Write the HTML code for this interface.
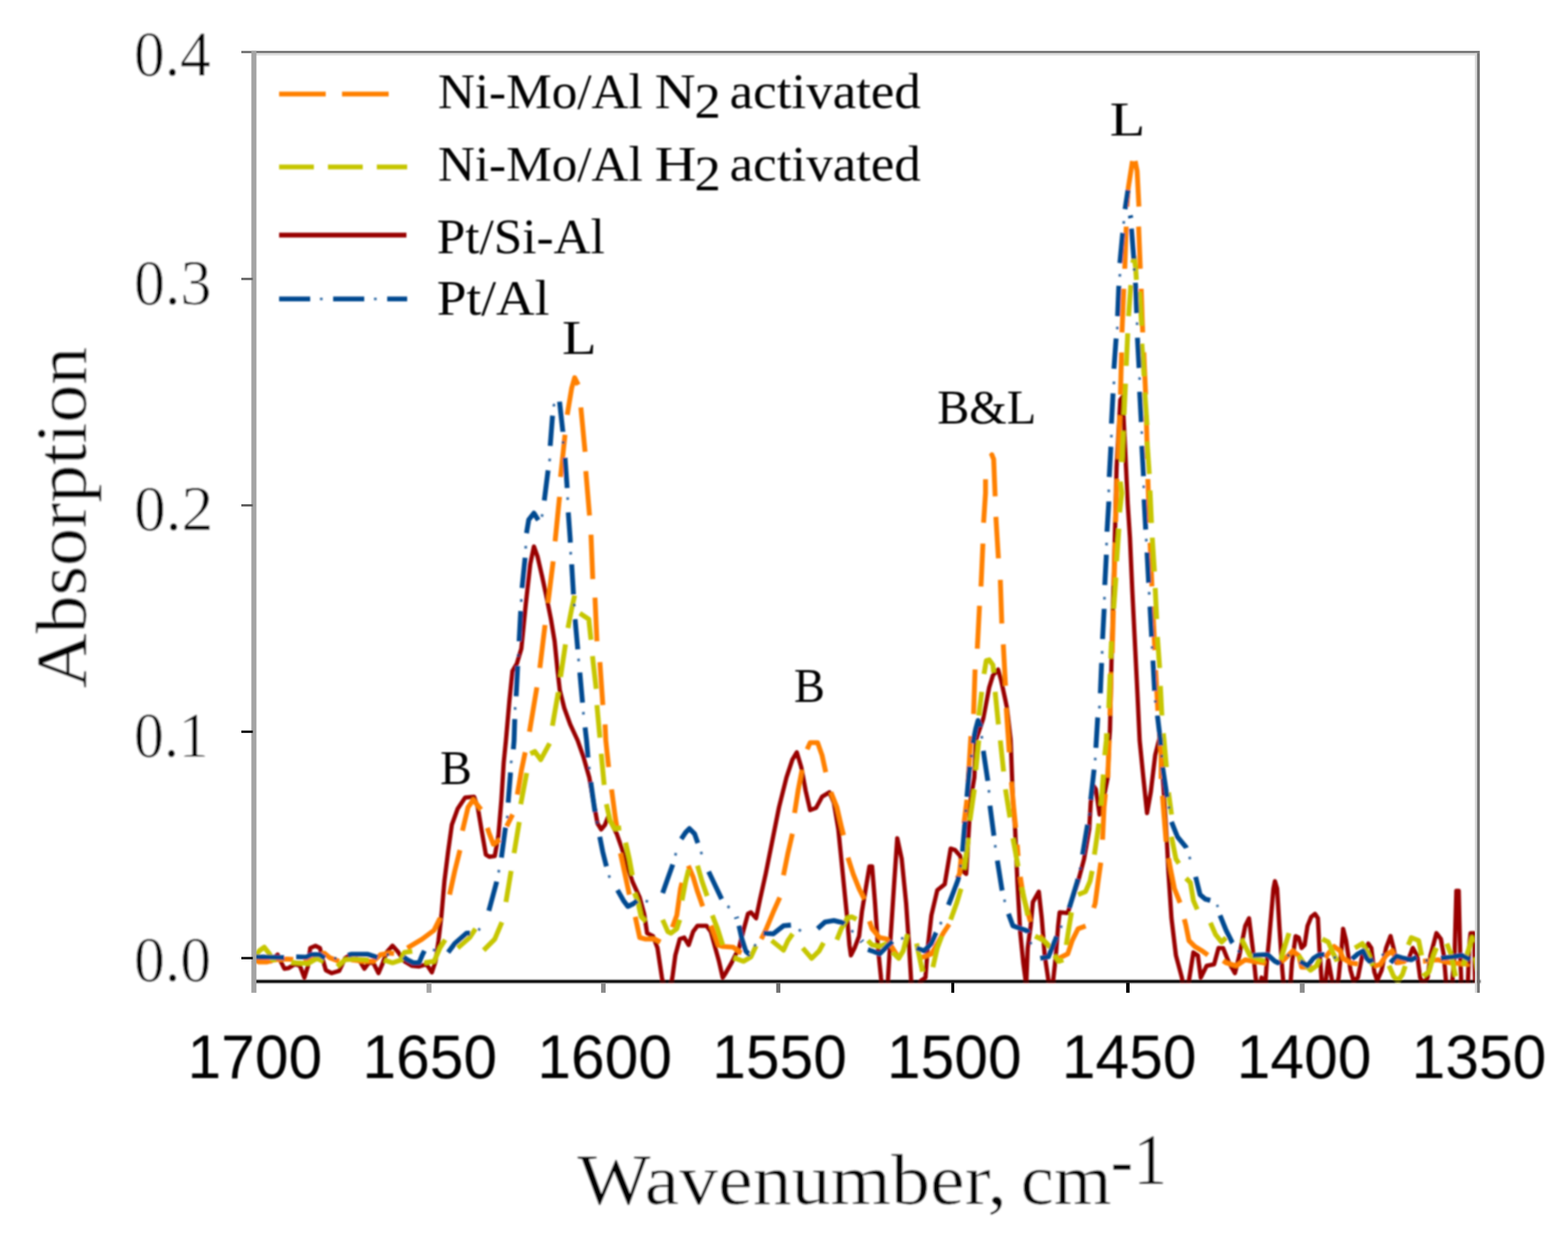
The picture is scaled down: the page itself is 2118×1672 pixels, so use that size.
<!DOCTYPE html>
<html lang="en"><head><meta charset="utf-8"><title>FTIR pyridine absorption spectra</title>
<style>html,body{margin:0;padding:0;background:#fff}body{width:2118px;height:1672px;overflow:hidden}svg{display:block}.s{font-family:"Liberation Serif","DejaVu Serif",serif;fill:#000;stroke:#fff}.a{font-family:"Liberation Sans","DejaVu Sans",sans-serif;fill:#000}.c{fill:none;stroke-linejoin:round;stroke-linecap:butt}</style></head><body>
<svg width="2118" height="1672" viewBox="0 0 2118 1672">
<defs><clipPath id="pa"><rect x="343" y="72" width="1654" height="1255.2"/></clipPath><filter id="bl" x="-2%" y="-2%" width="104%" height="104%"><feGaussianBlur stdDeviation="1.0"/></filter><filter id="bl2" x="-2%" y="-2%" width="104%" height="104%"><feGaussianBlur stdDeviation="0.55"/></filter></defs>
<rect width="2118" height="1672" fill="#fff"/>
<g filter="url(#bl)">
<rect x="343" y="1323.6" width="1656.5" height="3.8" fill="#000"/>
<g clip-path="url(#pa)">
<path class="c" d="M343 1293.3L366 1298.3L375 1289.3L380.1 1300.3L384.1 1308.3L390.1 1307.3L398.1 1302.3L405.1 1304.3L411.1 1320.3L416.1 1304.3L419.1 1280.3L426.1 1277.3L432.1 1280.3L436.1 1296.3L440.1 1310.3L448.1 1314.3L458.1 1311.3L466.1 1294.3L474.1 1289.3L486.2 1298.3L492.2 1308.3L498.2 1300.3L504.2 1300.3L511.2 1314.3L517.2 1300.3L522.2 1286.3L530.2 1277.3L538.2 1286.3L546.2 1298.3L556.2 1304.3L566.2 1305.3L576.2 1302.3L583.3 1313.3L588.3 1298.3L592.3 1270.3L596.3 1236.2L600.3 1190.2L605.3 1150.2L610.3 1114.1L618.3 1092.1L628.3 1077.1L640.3 1076.1L645.3 1090.1L650.3 1120.1L656.3 1154.2L661.3 1157.2L668.3 1156.2L673.3 1128.1L677.3 1080.1L680.4 1030L683.4 1000L688.1 946.3L692.2 906.2L698.2 896.2L704.2 876.2L710.2 816.2L716.2 762.1L721.2 738.1L726.2 752.1L732.2 778.1L738.2 806.1L744.2 836.2L749.2 866.2L753.2 906.2L756.2 932.3L762.2 956.3L770.2 978.3L780.2 999.9L788 1022L796 1050.1L803 1090.1L807.1 1112.1L812.1 1120.1L817.1 1114.1L821.1 1104.1L826.1 1112.1L833.1 1126.1L840.1 1146.1L846.1 1166.2L854.1 1190.2L864.1 1212.2L870.1 1234.2L874.1 1260.3L882.1 1264.3L888.1 1280.3L894.1 1320.3L901.1 1356.4L908.2 1320.3L912.2 1290.3L918.2 1268.3L924.2 1266.3L930.2 1276.3L936.2 1258.3L942.2 1250.3L954.2 1250.3L960.2 1258.3L966.2 1280.3L971.2 1298.3L976.2 1320.3L980.2 1314.3L988.2 1300.3L998.2 1280.3L1004.3 1256.3L1010.3 1234.2L1014.3 1232.2L1021.3 1240.2L1026.3 1216.2L1034.3 1180.2L1042.3 1140.1L1052.3 1090.1L1062.3 1050.1L1070.3 1026L1076.3 1016L1082.3 1036L1088.3 1068.1L1094.3 1094.1L1102.3 1091.1L1110.4 1076.1L1120.4 1070.1L1126.4 1084.1L1132.4 1120.1L1136.4 1160.2L1140.4 1200.2L1144.4 1240.2L1147.4 1276.3L1149.4 1290.3L1154.4 1280.3L1160.4 1264.3L1164.4 1230.2L1169.4 1200.2L1174.4 1170.2L1178 1170.2L1182 1220.2L1186 1280.3L1190 1320.3L1194 1350.4L1199 1330.3L1202 1280.3L1208 1190.2L1212 1132.1L1218 1160.2L1224 1220.2L1228.1 1280.3L1231.1 1330.3L1235.1 1350.4L1244.1 1324.3L1250.1 1320.3L1253.1 1280.3L1258.1 1236.2L1266.1 1202.2L1276.1 1194.2L1280.1 1170.2L1284.1 1146.1L1290.1 1148.1L1297.1 1156.2L1300.1 1176.2L1305.1 1180.2L1308.1 1130.1L1311.1 1080.1L1316.1 1050.1L1318.1 1000L1328.2 970.3L1336.2 928.3L1341.2 912.2L1348.2 904.2L1352.2 918.3L1358.2 946.3L1360.2 956.3L1365.2 999.9L1368.2 1080.1L1371.2 1120.1L1374.2 1190.2L1378.2 1260.3L1382.2 1300.3L1386.2 1330.3L1388.2 1280.3L1392.2 1250.3L1395.2 1218.2L1403.2 1204.2L1407.2 1240.2L1411.2 1290.3L1416.2 1324.3L1422.2 1328.3L1426.2 1290.3L1429.3 1250.3L1431.3 1232.2L1442.3 1233.2L1446.3 1220.2L1456.3 1190.2L1464.3 1160.2L1471.3 1120.1L1473.3 1084.1L1476.3 1060.1L1480.3 1066.1L1485.3 1100.1L1490.3 1080.1L1496.3 1050.1L1498.3 1000L1499.3 986.3L1501.3 896.2L1506.3 710.3L1508.3 630.2L1513.3 540.1L1516.3 536.1L1520.3 616.2L1523.3 680.3L1526.3 726.1L1529.4 796.1L1532.4 856.2L1536.4 936.3L1539.4 999.9L1544.4 1050.1L1549.4 1098.1L1554.4 1070.1L1560.4 1020L1566.4 996L1571.4 1060.1L1576.4 1140.1L1578.4 1180.2L1582.4 1240.2L1588.4 1290.3L1596.4 1320.3L1600 1340.3L1606 1324.3L1612 1286.3L1618 1290.3L1622 1320.3L1630 1304.3L1640 1302.3L1646 1280.3L1652.1 1280.3L1660.1 1300.3L1668.1 1314.3L1674.1 1290.3L1682.1 1250.3L1687.1 1240.2L1692.1 1280.3L1696.1 1320.3L1700.1 1344.3L1704.1 1320.3L1708.1 1344.3L1711.1 1300.3L1714.1 1270.3L1720.1 1200.2L1722.1 1190.2L1725.1 1200.2L1728.1 1250.3L1732.1 1310.3L1735.1 1344.3L1742.1 1344.3L1745.1 1300.3L1750.1 1264.3L1754.2 1266.3L1758.2 1280.3L1762.2 1276.3L1766.2 1250.3L1771.2 1238.2L1776.2 1234.2L1780.2 1240.2L1782.2 1280.3L1785.2 1324.3L1788.2 1344.3L1791.2 1320.3L1794.2 1296.3L1799.2 1324.3L1802.2 1344.3L1808.2 1320.3L1812.2 1280.3L1814.2 1254.3L1818.2 1270.3L1824.2 1310.3L1828.2 1324.3L1834.2 1320.3L1840.2 1290.3L1848.2 1274.3L1852.3 1280.3L1856.3 1312.3L1860.3 1324.3L1866.3 1310.3L1872.3 1280.3L1878.3 1264.3L1882.3 1280.3L1886.3 1300.3L1892.3 1296.3L1902.3 1296.3L1908.3 1280.3L1914.3 1290.3L1918.3 1320.3L1922.3 1328.3L1928.3 1320.3L1932.3 1290.3L1940.3 1260.3L1946.3 1268.3L1950.3 1290.3L1954.4 1340.3L1960.4 1340.3L1964.8 1290.3L1967.2 1203.2L1970.4 1203.2L1972.4 1290.3L1974.4 1340.3L1982.4 1340.3L1984.4 1280.3L1986.4 1260.3L1991.4 1260.3L1992.4 1324.3L1996.4 1300.3" stroke="#990000" stroke-width="5.8"/>
<path class="c" d="M343 1296.3L350 1299.3L360 1299.3L370 1296.3L388.1 1295.3L396.1 1295.9M410.1 1298.3L422.1 1296.3L430.1 1290.3L438.1 1287.3L445.1 1293.3L458.1 1298.3M474.1 1296.3L490.2 1298.3L504.2 1298.3L514.2 1289.3L526.2 1287.3L538.2 1288.3L542.2 1286.3M550.2 1280.3L570.2 1268.3L586.3 1256.3L594.3 1240.2L597.3 1231.2M607.3 1208.2L614.3 1176.2L621.3 1148.1M624.7 1122.1L632.3 1090.1L639.3 1080.1L650.3 1094.1L652.7 1099.1M658.3 1118.1L660.3 1124.1L666.3 1140.1L675.3 1134.1M684.4 1116.1L692.4 1100.1M698.8 1073.1L704.4 1040L709.4 1016M715.2 988.3L725.2 928.3M729.2 902.2L736.2 844.2M740.2 814.1L747.2 758.1M749.8 731.1L755.8 671M757.2 644.2L763.2 587.2M766.2 560.2L772.2 524.1L776.2 510.1L781.2 520.1M784.6 550.2L790.3 610.2M791.3 636.2L796.3 696.3M798.3 722.1L800.7 782.1M803.7 807.1L806.3 866.2M810.3 894.2L814.3 952.3M817.3 978.3L818.3 999.9L822.1 1036M826.1 1066.1L831.1 1104.1L834.1 1122.1M838.1 1152.2L844.1 1180.2L850.1 1208.2M858.1 1238.2L864.1 1266.3L872.1 1268.3L884.1 1268.3L892.1 1272.3M908.2 1252.3L914.2 1236.2L919.2 1200.2L921.2 1192.2M929.8 1169.2L936.2 1184.2L942.2 1204.2L949.2 1224.2M960.2 1250.3L962.2 1254.3L970.2 1276.3L976.2 1278.3L990.2 1279.3L1000.2 1286.3L1008.3 1290.3L1018.3 1280.3M1028.3 1268.3L1034.3 1256.3L1044.3 1232.2L1053.3 1212.2M1058.3 1182.2L1064.3 1152.2L1070.3 1126.1M1073.3 1098.1L1078.3 1066.1L1083.3 1040M1090.3 1012L1094.3 1003L1104.4 1003L1110.4 1020L1115.4 1043M1122.4 1070.1L1130.4 1090.1L1136.4 1116.1L1139.4 1128.1M1145.4 1158.2L1152.4 1180.2L1160.4 1200.2L1167.4 1214.2M1174.4 1244.2L1178 1254.3L1188 1266.3L1198 1268.3L1208 1284.3L1212 1290.3M1244.1 1293.3L1258.1 1288.3L1266.1 1274.3L1274.1 1260.3L1282.1 1248.2M1293.1 1186.2L1296.1 1180.2L1298.1 1160.2M1302.1 1112.1L1306.1 1080.1M1307.7 1056.1L1311.7 990M1315.1 964.3L1317.1 904.2M1320.1 876.2L1323.1 818.2M1325.1 792.1L1327.7 734.1M1328.6 706L1331.2 666L1331.2 647.2M1338.2 616.2L1339.8 614.2L1342.2 620.2L1344.2 670.3M1345.2 698L1348.6 754.1M1351.2 783.1L1353.2 842.2M1355.2 870.2L1358.2 926.3M1359.2 956.3L1362.2 999.9L1363.2 1016M1366.2 1056.1L1369.2 1090.1L1373.2 1130.1L1375.2 1156.2M1378.2 1184.2L1382.2 1210.2L1392.2 1246.2L1400.2 1260.3L1408.2 1268.3M1429.3 1294.3L1434.3 1292.3L1442.3 1288.3L1448.3 1270.3L1456.3 1254.3L1470.3 1249.2M1477.3 1226.2L1479.3 1220.2L1483.3 1190.2L1487.3 1162.2M1489.3 1134.1L1491.3 1090.1L1493.3 1070.1M1496.3 1050.1L1498.3 1000M1499.3 966.3L1500.7 908.2M1502.3 882.2L1503.9 824.2M1504.8 791L1506.3 733M1507 705L1508.9 647M1510.4 620L1512.7 561M1513.5 533L1515 476M1515.5 449L1518 390M1519.3 363L1521.3 306M1522.3 279L1524 254L1529.7 217.5M1533.3 217.5L1536 231L1538.4 279M1538 306L1540.3 363M1541.5 390L1543.5 449M1545 476L1547.5 533M1548.3 561L1550 620M1550.5 647L1552.5 706M1553.5 733L1556 792M1557 819L1560 878M1561 905L1564 960M1566 990L1568.4 1020L1568.4 1050.1L1571.4 1090.1L1575.4 1140.1L1580.4 1170.2L1586.4 1200.2L1594.4 1220.2L1602 1250.3L1606 1270.3L1614 1278.3L1624 1284.3L1632 1290.3L1642 1290.3L1656.1 1300.3L1670.1 1304.3L1682.1 1296.3L1692.1 1298.3L1706.1 1300.3L1722.1 1304.3L1734.1 1296.3L1746.1 1284.3L1754.2 1290.3L1758.2 1306.3L1768.2 1306.3L1782.2 1304.3L1792.2 1290.3L1802.2 1278.3L1810.2 1284.3L1814.2 1294.3L1824.2 1300.3L1836.2 1302.3L1848.2 1300.3L1858.3 1304.3L1864.3 1302.3L1872.3 1290.3L1880.3 1284.3L1888.3 1300.3L1898.3 1298.3L1922.3 1298.3L1942.3 1296.3L1958.4 1300.3L1982.4 1302.3L1996.4 1286.3" stroke="#ff8000" stroke-width="6.6" stroke-dasharray="62 23"/>
<path class="c" d="M343 1294.3L350 1284.3L357 1279.3L364 1288.3L368 1296.3L378 1296.3L390.1 1299.3L400.1 1300.3L416.1 1301.3L428.1 1294.3L440.1 1300.3L454.1 1306.3L466.1 1296.3L478.1 1295.3L494.2 1296.3L506.2 1297.3L518.2 1296.3L530.2 1300.3L542.2 1296.3L546.2 1286.3L560.2 1284.3L568.2 1294.3M573.2 1300.3L586.3 1298.3L594.3 1280.3L603.3 1266.3M618.3 1280.3L634.3 1266.3L642.3 1254.3M653.3 1283.3L668.3 1268.3L679.3 1242.2M683.4 1218.2L690.4 1176.2M694.4 1152.2L701.4 1110.1M703.4 1086.1L711.4 1044M716.4 1018L722.4 1015L730.4 1026L742.4 1004M746.2 980.3L754.2 934.3M757.2 914.2L763.8 870.2M767.2 848.2L772.2 822.2L776.2 804.1M783.2 828.2L795.3 836.2L798.3 864.2M800.3 886.2L805.3 930.3M806.3 952.3L810.3 996.3M812.1 1018L816.1 1060.1M819.1 1086.1L824.1 1108.1L830.1 1119.1L839.1 1118.1M845.1 1138.1L850.1 1160.2L854.1 1182.2M857.1 1206.2L862.1 1220.2L866.1 1238.2L872.1 1244.2M895.1 1242.2L902.1 1258.3L906.2 1260.3L914.2 1254.3L918.2 1242.2M921.2 1216.2L926.2 1190.2L930.2 1174.2M942.2 1169.2L948.2 1190.2L955.2 1210.2M962.2 1236.2L969.2 1254.3L976.2 1276.3M991.2 1293.3L1004.3 1298.3L1014.3 1292.3L1021.3 1277.3M1042.3 1270.3L1058.3 1283.3L1064.3 1270.3L1071.3 1260.3M1084.3 1280.3L1096.3 1294.3L1106.4 1284.3L1112.4 1273.3M1130.4 1269.3L1136.4 1254.3L1144.4 1240.2L1150.4 1238.2L1162.4 1244.2M1172.4 1270.3L1178 1276.3L1188 1278.3L1198 1274.3M1206 1286.3L1214 1294.3L1220 1284.3L1226 1260.3L1231.1 1250.3M1238.1 1274.3L1246.1 1312.3M1260.1 1306.3L1266.1 1280.3L1272.1 1264.3M1284.1 1242.2L1292.1 1220.2L1298.1 1200.2M1302.1 1174.2L1308.1 1132.1M1310.1 1108.1L1316.1 1066.1M1318.1 1040L1322.1 1000M1322.1 966.3L1326.1 934.3M1329.2 910.2L1332.2 892.2L1336.2 891.2L1341.2 898.2L1342.2 908.2M1344.2 934.3L1348.6 978.3M1351.2 1000L1355.6 1042M1358.2 1066.1L1364.2 1104.1M1368.2 1132.1L1375.2 1170.2M1380.2 1198.2L1388.2 1236.2M1398.2 1264.3L1410.2 1270.3L1416.2 1276.3L1418.2 1280.3M1424.2 1290.3L1430.3 1298.3L1436.3 1296.3M1440.3 1276.3L1444.3 1250.3L1447.3 1232.2M1456.3 1208.2L1466.3 1204.2L1472.3 1190.2L1475.3 1176.2M1478.3 1154.2L1484.3 1112.1M1487.3 1088.1L1490.3 1046M1492.3 1020L1494.3 1000L1494.7 990.3M1497.7 956.3L1499.3 916.3L1501.3 866.2M1504.3 822.2L1507.3 780.1M1508.3 758.1L1511.3 714M1512.3 692L1515.3 666L1513.3 650.3M1515.3 624.2L1517.3 582.2M1518.3 560.2L1520.3 518.1M1521.3 494.1L1523.3 450.1M1524.4 427L1527.5 385M1530 355L1532 347L1534 362L1535 378M1539.2 394L1542.3 442.5M1542.4 464.1L1545.4 508.1M1546.4 530.1L1549.4 574.2M1549.4 596.2L1552.4 640.2M1553.4 662.3L1555.4 706.3M1556.4 726.1L1559.4 772.1M1560.4 794.1L1562.4 836.2M1563.4 860.2L1566.4 902.2M1567.4 926.3L1569.4 966.3M1571.4 990.3L1572.4 1000L1576.4 1046M1578.4 1070.1L1582.4 1100.1M1582.4 1130.1L1588.4 1160.2L1592.4 1166.2M1602 1186.2L1608 1192.2L1612 1216.2L1618 1230.2M1635 1246.2L1642 1262.3L1650 1272.3L1656.1 1266.3M1677.1 1268.3L1682.1 1278.3L1688.1 1290.3L1702.1 1296.3L1718.1 1300.3M1730.1 1296.3L1736.1 1276.3L1741.1 1260.3M1754.2 1290.3L1762.2 1302.3L1770.2 1310.3L1778.2 1304.3L1784.2 1290.3M1786.2 1268.3L1794.2 1272.3L1800.2 1286.3L1806.2 1298.3M1830.2 1280.3L1840.2 1274.3L1848.2 1288.3L1854.3 1304.3M1876.3 1304.3L1882.3 1318.3L1888.3 1324.3L1894.3 1316.3L1898.3 1304.3M1902.3 1276.3L1906.3 1266.3L1916.3 1270.3L1920.3 1290.3M1922.3 1318.3L1930.3 1312.3L1936.3 1290.3L1940.3 1280.3M1954.4 1274.3L1960.4 1290.3L1966.4 1320.3M1976.4 1304.3L1984.4 1280.3L1988.4 1266.3L1992.4 1290.3L1996.4 1310.3" stroke="#c6c600" stroke-width="6.6" stroke-dasharray="46 21"/>
<path class="c" d="M343 1292.3L364 1292.7L382.1 1293.3L389.1 1292.9M400.1 1292.3L414.1 1292.7L420.1 1289.3L432.1 1289.3L439.1 1294.3L455.7 1294.3L462.4 1292.4M470.1 1290.3L474.1 1288.7L496.2 1288.7L510.2 1293.3L529.2 1287.7L535.9 1289.6M545.2 1292.3L550.2 1296.3L558.2 1300.3L566.2 1300.3L570.2 1290.3L574.2 1282.3L588.3 1283.3L595.2 1284.5M605.3 1286.3L614.3 1274.3L630.3 1260.3L642.3 1260.3L653.9 1248.2L656.2 1241.6M660.3 1230.2L670.3 1193.2L673.9 1175.8L675.2 1168.9M677.3 1158.2L682.4 1120.1L685.4 1103.1L685.8 1096.1M686.4 1084.1L689.4 1046L690.4 1030L691.6 1023.1M693.4 1012L694.4 1000L695.2 974.3L695.8 956.9L696.4 949.9M697.2 940.3L699.2 900.2L700.2 884.2L700.6 877.2M701.2 866.2L703.2 828.2L704.2 810.5L704.6 803.5M705.2 794.1L709.2 754.1L710.2 737.7L710.6 730.7M711.2 720.1L714.2 702L721.2 693L729.2 706L733.2 693L734.0 686.0M735.2 676L740.2 636.2L742.6 620.2L742.8 613.2M743.2 602.2L746.2 563.2L748.2 547.1L753.2 544.1M755.8 542.5L760.2 582.2L760.8 602.2L761.8 609.1M763.2 618.2L765.8 654.3L766.8 673.3L767.1 680.3M767.6 692L770.2 728.1L770.8 746.5L771.4 753.5M772.2 762.1L774.6 802.1L775.8 819.2L776.2 826.2M776.8 836.2L780.2 874.2L781.6 892.2L782.3 899.2M783.2 908.2L786.6 946.3L788.2 965.3L789.1 972.2M790.3 982.3L792.3 999.9L794 1020L796 1038L796.8 1045.0M798 1056.1L803 1092.1L806.5 1111.1L807.8 1118.0M810.1 1130.1L814.1 1150.2L818.1 1166.2L823.1 1184.2L826.8 1190.2M834.1 1202.2L842.1 1216.2L848.1 1224.2L856.1 1220.2L863.1 1214.2L881.1 1219.2L886.2 1214.4M895.1 1206.2L902.1 1186.2L908.2 1169.2L913.2 1151.6L915.7 1145.1M920.2 1133.1L926.2 1124.1L931.2 1119.1L938.2 1126.1L944.2 1143.1L950.6 1161.2L953.3 1167.7M957.2 1177.2L966.2 1196.2L976.2 1217.2L993.2 1233.8L995.2 1240.5M998.2 1250.3L1002.2 1268.3L1007.3 1284.3L1011.3 1288.3L1020.3 1276.3L1024.3 1270.5M1031.3 1260.3L1044.3 1261.3L1058.3 1250.3L1070.3 1249.2L1087.3 1261.3L1093.8 1258.6M1104.4 1254.3L1114.4 1245.2L1126.4 1243.2L1138.4 1246.2L1144.4 1251.3L1160.4 1266.3L1164.6 1271.9M1172.4 1282.3L1178 1284.3L1188 1288.3L1198 1278.3L1208 1269.3L1225 1266.3L1229.8 1271.4M1238.1 1280.3L1248.1 1284.3L1258.1 1274.3L1264.1 1260.3L1273.1 1242.2L1275.7 1235.7M1281.1 1222.2L1288.1 1204.2L1294.1 1188.2L1297.5 1169.2L1298.4 1162.3M1300.1 1150.2L1303.1 1114.1L1304.5 1096.1L1305.1 1089.1M1306.1 1076.1L1309.1 1042L1311.7 1023L1312.6 1016.1M1314.1 1004L1318.1 984L1321.1 973L1324.1 980L1326.5 998L1327.2 1005.0M1328.2 1014L1334.2 1054.1L1336.2 1071.7L1336.6 1078.7M1337.2 1088.1L1342.2 1126.1L1344.6 1144.5L1345.6 1151.4M1347.2 1162.2L1353.2 1200.2L1357.2 1217.2L1359.2 1223.9M1362.2 1234.2L1368.2 1250.3L1388.2 1257.3L1393.2 1277.3L1397.2 1283.0M1405.2 1294.3L1416.2 1292.3L1428.3 1262.3L1436.3 1245.2L1439.0 1238.7M1444.3 1226.2L1455.3 1190.2L1459.3 1172.2L1460.5 1165.3M1462.3 1154.2L1468.3 1118.1L1471.7 1099.1L1472.3 1092.1M1473.3 1080.1L1477.3 1044L1479.3 1027L1479.7 1020.0M1480.3 1010L1482.7 970.3L1485.3 953.9L1485.7 946.9M1486.3 936.3L1487.9 898.2L1488.7 881.2L1488.9 874.2M1489.3 863.2L1491.3 825.2L1491.9 808.1L1492.1 801.1M1492.3 790.1L1494.3 752.1L1494.7 735.1L1494.9 728.1M1495.3 718.1L1497.7 679L1497.7 661.3L1497.9 654.3M1498.3 644.2L1500.3 608.2L1501.3 588.2L1501.3 581.2M1501.3 572.2L1503.3 534.1L1504.7 516.1L1504.7 509.1M1504.7 498.1L1507.3 461.1L1509.3 443L1509.4 436.0M1509.6 427L1511.2 388L1512.7 371L1512.7 364.0M1512.7 355.4L1516.6 313.5L1518.2 298L1518.9 291.0M1519.7 282.4L1523.6 256.7M1526.7 291L1527.5 294.5M1528.3 308.8L1531.4 347.7L1532.2 365.5L1532.8 372.5M1533.7 381.9L1535.3 420.7L1536.1 438L1536.2 445.0M1536.4 456.1L1538.4 493.1L1539.4 511.1L1539.4 518.1M1539.4 529.1L1541.4 566.2L1542.4 584.2L1542.4 591.2M1542.4 602.2L1544.4 638.2L1545 657.3L1545.2 664.3M1545.4 674.3L1547.4 712.3L1548.4 730.3L1548.8 737.3M1549.4 746.1L1551.4 784.1L1552.4 804.1L1552.9 811.1M1553.4 819.2L1555.4 856.2L1556.4 877.2L1556.9 884.2M1557.4 892.2L1559.4 930.3L1560.8 950.3L1561.9 957.2M1563.4 966.3L1567.4 999.9L1568.4 1012L1569.4 1024L1570.0 1031.0M1570.4 1036L1573.4 1056.1L1576.4 1076.1L1579.4 1092.1L1580.6 1099.0M1582.4 1110.1L1590.4 1130.1L1602 1144.1L1610 1167.2L1612.0 1173.9M1615 1184.2L1621 1208.2L1628 1214.2L1643 1218.2L1644.9 1224.9M1648 1236.2L1656.1 1256.3L1664.1 1272.3L1676.1 1288.3L1683.0 1289.2M1692.1 1290.3L1712.1 1289.3L1722.1 1298.3L1726.1 1300.3L1743.1 1288.3L1748.7 1292.5M1756.2 1298.3L1766.2 1304.3L1774.2 1294.3L1782.2 1289.3L1790.2 1289.3L1806.2 1294.3L1813.2 1294.6M1826.2 1295.3L1834.2 1288.3L1841.2 1284.3L1846.2 1294.3L1850.2 1298.3L1868.3 1289.3L1873.0 1294.5M1878.3 1300.3L1886.3 1291.3L1896.3 1294.3L1906.3 1296.3L1914.3 1292.3L1930.3 1298.3L1937.1 1296.6M1946.3 1294.3L1962.4 1292.3L1974.4 1290.3L1986.4 1296.3L1994.4 1300.3" stroke="#004890" stroke-width="6.6" stroke-dasharray="41 32"/>
<path class="c" d="M343 1292.3L364 1292.7L382.1 1293.3L389.1 1292.9M400.1 1292.3L414.1 1292.7L420.1 1289.3L432.1 1289.3L439.1 1294.3L455.7 1294.3L462.4 1292.4M470.1 1290.3L474.1 1288.7L496.2 1288.7L510.2 1293.3L529.2 1287.7L535.9 1289.6M545.2 1292.3L550.2 1296.3L558.2 1300.3L566.2 1300.3L570.2 1290.3L574.2 1282.3L588.3 1283.3L595.2 1284.5M605.3 1286.3L614.3 1274.3L630.3 1260.3L642.3 1260.3L653.9 1248.2L656.2 1241.6M660.3 1230.2L670.3 1193.2L673.9 1175.8L675.2 1168.9M677.3 1158.2L682.4 1120.1L685.4 1103.1L685.8 1096.1M686.4 1084.1L689.4 1046L690.4 1030L691.6 1023.1M693.4 1012L694.4 1000L695.2 974.3L695.8 956.9L696.4 949.9M697.2 940.3L699.2 900.2L700.2 884.2L700.6 877.2M701.2 866.2L703.2 828.2L704.2 810.5L704.6 803.5M705.2 794.1L709.2 754.1L710.2 737.7L710.6 730.7M711.2 720.1L714.2 702L721.2 693L729.2 706L733.2 693L734.0 686.0M735.2 676L740.2 636.2L742.6 620.2L742.8 613.2M743.2 602.2L746.2 563.2L748.2 547.1L753.2 544.1M755.8 542.5L760.2 582.2L760.8 602.2L761.8 609.1M763.2 618.2L765.8 654.3L766.8 673.3L767.1 680.3M767.6 692L770.2 728.1L770.8 746.5L771.4 753.5M772.2 762.1L774.6 802.1L775.8 819.2L776.2 826.2M776.8 836.2L780.2 874.2L781.6 892.2L782.3 899.2M783.2 908.2L786.6 946.3L788.2 965.3L789.1 972.2M790.3 982.3L792.3 999.9L794 1020L796 1038L796.8 1045.0M798 1056.1L803 1092.1L806.5 1111.1L807.8 1118.0M810.1 1130.1L814.1 1150.2L818.1 1166.2L823.1 1184.2L826.8 1190.2M834.1 1202.2L842.1 1216.2L848.1 1224.2L856.1 1220.2L863.1 1214.2L881.1 1219.2L886.2 1214.4M895.1 1206.2L902.1 1186.2L908.2 1169.2L913.2 1151.6L915.7 1145.1M920.2 1133.1L926.2 1124.1L931.2 1119.1L938.2 1126.1L944.2 1143.1L950.6 1161.2L953.3 1167.7M957.2 1177.2L966.2 1196.2L976.2 1217.2L993.2 1233.8L995.2 1240.5M998.2 1250.3L1002.2 1268.3L1007.3 1284.3L1011.3 1288.3L1020.3 1276.3L1024.3 1270.5M1031.3 1260.3L1044.3 1261.3L1058.3 1250.3L1070.3 1249.2L1087.3 1261.3L1093.8 1258.6M1104.4 1254.3L1114.4 1245.2L1126.4 1243.2L1138.4 1246.2L1144.4 1251.3L1160.4 1266.3L1164.6 1271.9M1172.4 1282.3L1178 1284.3L1188 1288.3L1198 1278.3L1208 1269.3L1225 1266.3L1229.8 1271.4M1238.1 1280.3L1248.1 1284.3L1258.1 1274.3L1264.1 1260.3L1273.1 1242.2L1275.7 1235.7M1281.1 1222.2L1288.1 1204.2L1294.1 1188.2L1297.5 1169.2L1298.4 1162.3M1300.1 1150.2L1303.1 1114.1L1304.5 1096.1L1305.1 1089.1M1306.1 1076.1L1309.1 1042L1311.7 1023L1312.6 1016.1M1314.1 1004L1318.1 984L1321.1 973L1324.1 980L1326.5 998L1327.2 1005.0M1328.2 1014L1334.2 1054.1L1336.2 1071.7L1336.6 1078.7M1337.2 1088.1L1342.2 1126.1L1344.6 1144.5L1345.6 1151.4M1347.2 1162.2L1353.2 1200.2L1357.2 1217.2L1359.2 1223.9M1362.2 1234.2L1368.2 1250.3L1388.2 1257.3L1393.2 1277.3L1397.2 1283.0M1405.2 1294.3L1416.2 1292.3L1428.3 1262.3L1436.3 1245.2L1439.0 1238.7M1444.3 1226.2L1455.3 1190.2L1459.3 1172.2L1460.5 1165.3M1462.3 1154.2L1468.3 1118.1L1471.7 1099.1L1472.3 1092.1M1473.3 1080.1L1477.3 1044L1479.3 1027L1479.7 1020.0M1480.3 1010L1482.7 970.3L1485.3 953.9L1485.7 946.9M1486.3 936.3L1487.9 898.2L1488.7 881.2L1488.9 874.2M1489.3 863.2L1491.3 825.2L1491.9 808.1L1492.1 801.1M1492.3 790.1L1494.3 752.1L1494.7 735.1L1494.9 728.1M1495.3 718.1L1497.7 679L1497.7 661.3L1497.9 654.3M1498.3 644.2L1500.3 608.2L1501.3 588.2L1501.3 581.2M1501.3 572.2L1503.3 534.1L1504.7 516.1L1504.7 509.1M1504.7 498.1L1507.3 461.1L1509.3 443L1509.4 436.0M1509.6 427L1511.2 388L1512.7 371L1512.7 364.0M1512.7 355.4L1516.6 313.5L1518.2 298L1518.9 291.0M1519.7 282.4L1523.6 256.7M1526.7 291L1527.5 294.5M1528.3 308.8L1531.4 347.7L1532.2 365.5L1532.8 372.5M1533.7 381.9L1535.3 420.7L1536.1 438L1536.2 445.0M1536.4 456.1L1538.4 493.1L1539.4 511.1L1539.4 518.1M1539.4 529.1L1541.4 566.2L1542.4 584.2L1542.4 591.2M1542.4 602.2L1544.4 638.2L1545 657.3L1545.2 664.3M1545.4 674.3L1547.4 712.3L1548.4 730.3L1548.8 737.3M1549.4 746.1L1551.4 784.1L1552.4 804.1L1552.9 811.1M1553.4 819.2L1555.4 856.2L1556.4 877.2L1556.9 884.2M1557.4 892.2L1559.4 930.3L1560.8 950.3L1561.9 957.2M1563.4 966.3L1567.4 999.9L1568.4 1012L1569.4 1024L1570.0 1031.0M1570.4 1036L1573.4 1056.1L1576.4 1076.1L1579.4 1092.1L1580.6 1099.0M1582.4 1110.1L1590.4 1130.1L1602 1144.1L1610 1167.2L1612.0 1173.9M1615 1184.2L1621 1208.2L1628 1214.2L1643 1218.2L1644.9 1224.9M1648 1236.2L1656.1 1256.3L1664.1 1272.3L1676.1 1288.3L1683.0 1289.2M1692.1 1290.3L1712.1 1289.3L1722.1 1298.3L1726.1 1300.3L1743.1 1288.3L1748.7 1292.5M1756.2 1298.3L1766.2 1304.3L1774.2 1294.3L1782.2 1289.3L1790.2 1289.3L1806.2 1294.3L1813.2 1294.6M1826.2 1295.3L1834.2 1288.3L1841.2 1284.3L1846.2 1294.3L1850.2 1298.3L1868.3 1289.3L1873.0 1294.5M1878.3 1300.3L1886.3 1291.3L1896.3 1294.3L1906.3 1296.3L1914.3 1292.3L1930.3 1298.3L1937.1 1296.6M1946.3 1294.3L1962.4 1292.3L1974.4 1290.3L1986.4 1296.3L1994.4 1300.3" stroke="#004890" stroke-width="3.6" stroke-dasharray="0 53.5 3.6 15.9" opacity="0.8"/>
</g>
</g>
<g filter="url(#bl2)">
<rect x="343" y="1323.8" width="1652.4" height="3.4" fill="#000" opacity="0.5"/>
<rect x="326" y="68.7" width="1672.8" height="3.1" fill="#707070"/>
<rect x="346" y="71.8" width="1649.2" height="3.1" fill="#dedede"/>
<rect x="339.5" y="68.7" width="6.9" height="1272.1" fill="#a4a4a4"/>
<rect x="1992.2" y="71.8" width="3.1" height="1269.0" fill="#d8d8d8"/>
<rect x="1995.2" y="71.8" width="3.6" height="1269.0" fill="#727272"/>
<rect x="326" y="375.15" width="15.5" height="3.2" fill="#666"/>
<rect x="326" y="680.9" width="15.5" height="3.2" fill="#606060"/>
<rect x="326" y="986.65" width="15.5" height="3.2" fill="#0a0a0a"/>
<rect x="326" y="1292.4" width="15.5" height="3.2" fill="#0a0a0a"/>
<rect x="576.2" y="1327.2" width="6.6" height="13.6" fill="#a6a6a6"/>
<rect x="811.9" y="1327.2" width="6.2" height="13.6" fill="#8a8a8a"/>
<rect x="1048.5" y="1327.2" width="5.6" height="13.6" fill="#707070"/>
<rect x="1285" y="1327.2" width="4.0" height="13.6" fill="#000"/>
<rect x="1521.2" y="1327.2" width="4.6" height="13.6" fill="#000"/>
<rect x="1755.7" y="1327.2" width="6.6" height="13.6" fill="#8c8c8c"/>
</g>
<g filter="url(#bl)">
<text class="s" x="181" y="102.3" font-size="87" textLength="103.7" lengthAdjust="spacingAndGlyphs" stroke-width="0.8">0.4</text>
<text class="s" x="181" y="410.8" font-size="87" textLength="104.6" lengthAdjust="spacingAndGlyphs" stroke-width="0.8">0.3</text>
<text class="s" x="180.9" y="715.8" font-size="87" textLength="107.2" lengthAdjust="spacingAndGlyphs" stroke-width="0.8">0.2</text>
<text class="s" x="181.1" y="1021.6" font-size="87" textLength="100.8" lengthAdjust="spacingAndGlyphs" stroke-width="0.8">0.1</text>
<text class="s" x="181" y="1324.9" font-size="87" textLength="104.1" lengthAdjust="spacingAndGlyphs" stroke-width="0.8">0.0</text>
<text class="a" x="253.3" y="1455.5" font-size="83" textLength="182" lengthAdjust="spacingAndGlyphs">1700</text>
<text class="a" x="489.5" y="1455.5" font-size="83" textLength="182" lengthAdjust="spacingAndGlyphs">1650</text>
<text class="a" x="725.7" y="1455.5" font-size="83" textLength="182" lengthAdjust="spacingAndGlyphs">1600</text>
<text class="a" x="961.9" y="1455.5" font-size="83" textLength="182" lengthAdjust="spacingAndGlyphs">1550</text>
<text class="a" x="1198.1" y="1455.5" font-size="83" textLength="182" lengthAdjust="spacingAndGlyphs">1500</text>
<text class="a" x="1434.3" y="1455.5" font-size="83" textLength="182" lengthAdjust="spacingAndGlyphs">1450</text>
<text class="a" x="1670.5" y="1455.5" font-size="83" textLength="182" lengthAdjust="spacingAndGlyphs">1400</text>
<text class="a" x="1906.7" y="1455.5" font-size="83" textLength="182" lengthAdjust="spacingAndGlyphs">1350</text>
<text class="s" font-size="98" stroke-width="0.7" xml:space="default"><tspan x="779.8" y="1626.3" textLength="580.3" lengthAdjust="spacingAndGlyphs">Wavenumber,</tspan> <tspan x="1378.7" y="1626.3" textLength="122.9" lengthAdjust="spacingAndGlyphs">cm</tspan><tspan x="1500.1" y="1599.3" textLength="76.4" lengthAdjust="spacingAndGlyphs">-1</tspan></text>
<text class="s" stroke-width="0.7" transform="translate(115.8 928.5) rotate(-90)" x="-1" y="0" font-size="98" textLength="461.1" lengthAdjust="spacingAndGlyphs">Absorption</text>
<path d="M377 127H526" stroke="#ff8000" stroke-width="6.5" stroke-dasharray="63 22" fill="none"/>
<path d="M377 225.5H550" stroke="#c6c600" stroke-width="6.5" stroke-dasharray="47 19" fill="none"/>
<path d="M377 317.5H549" stroke="#990000" stroke-width="6.5" fill="none"/>
<path d="M377 403.7H550" stroke="#004890" stroke-width="6.5" stroke-dasharray="42 31" fill="none"/>
<path d="M377 403.7H550" stroke="#004890" stroke-width="3.6" stroke-dasharray="0 55.2 3.6 14.2" fill="none" opacity="0.8"/>
<text class="s" font-size="67" stroke-width="0" xml:space="default"><tspan x="591.4" y="145.5" textLength="276.9" lengthAdjust="spacingAndGlyphs">Ni-Mo/Al</tspan> <tspan x="884.3" y="145.5" textLength="55.3" lengthAdjust="spacingAndGlyphs">N</tspan><tspan x="938" y="158.6" textLength="35.7" lengthAdjust="spacingAndGlyphs">2</tspan> <tspan x="985.6" y="145.5" textLength="258.3" lengthAdjust="spacingAndGlyphs">activated</tspan></text>
<text class="s" font-size="67" stroke-width="0" xml:space="default"><tspan x="591.4" y="243.5" textLength="276.9" lengthAdjust="spacingAndGlyphs">Ni-Mo/Al</tspan> <tspan x="884.3" y="243.5" textLength="56.5" lengthAdjust="spacingAndGlyphs">H</tspan><tspan x="938" y="256.6" textLength="35.7" lengthAdjust="spacingAndGlyphs">2</tspan> <tspan x="985.6" y="243.5" textLength="258.3" lengthAdjust="spacingAndGlyphs">activated</tspan></text>
<text class="s" x="590" y="342" font-size="67" textLength="227" lengthAdjust="spacingAndGlyphs" stroke-width="0">Pt/Si-Al</text>
<text class="s" x="589.9" y="425.3" font-size="67" textLength="152.3" lengthAdjust="spacingAndGlyphs" stroke-width="0">Pt/Al</text>
<text class="s" x="759.2" y="477.8" font-size="66" textLength="46.6" lengthAdjust="spacingAndGlyphs" stroke-width="0">L</text>
<text class="s" x="1499.1" y="183" font-size="66" textLength="48" lengthAdjust="spacingAndGlyphs" stroke-width="0">L</text>
<text class="s" x="594.4" y="1059" font-size="66" textLength="42.9" lengthAdjust="spacingAndGlyphs" stroke-width="0">B</text>
<text class="s" x="1072.4" y="948" font-size="66" textLength="41.7" lengthAdjust="spacingAndGlyphs" stroke-width="0">B</text>
<text class="s" x="1266" y="572" font-size="66" textLength="133.6" lengthAdjust="spacingAndGlyphs" stroke-width="0">B&amp;L</text>
</g>
</svg></body></html>
